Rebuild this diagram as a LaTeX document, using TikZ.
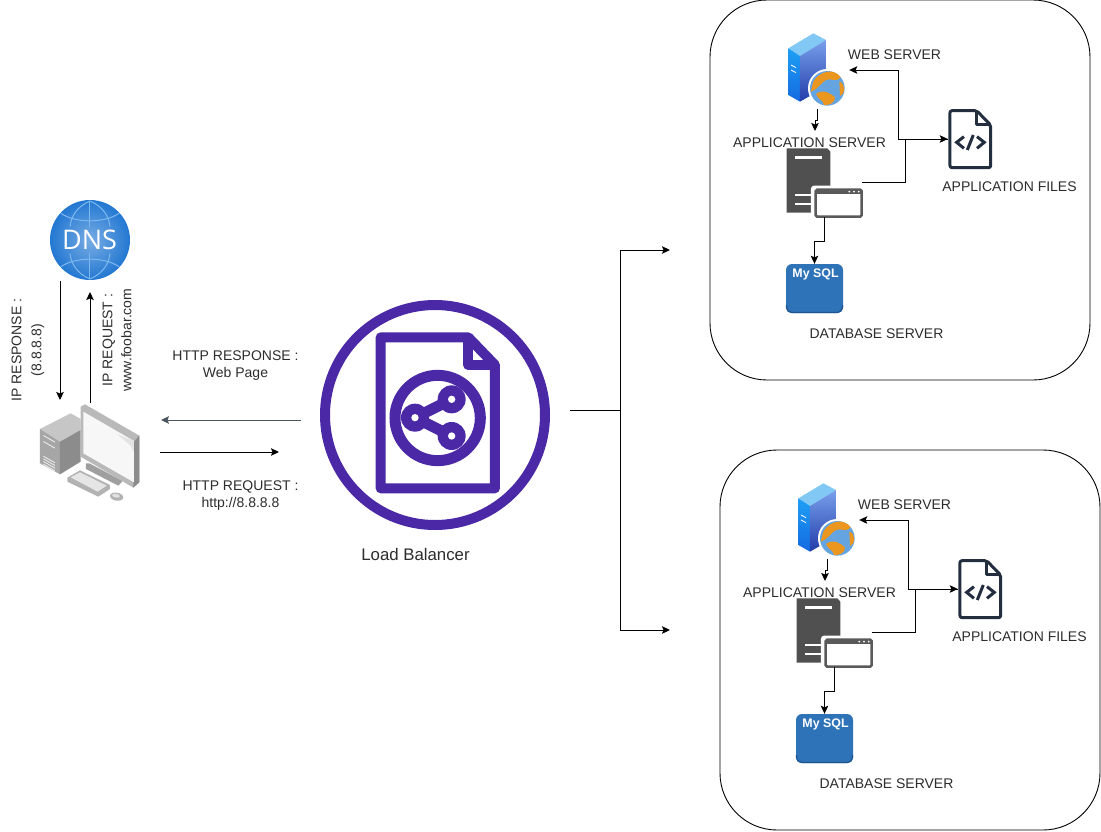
\documentclass[tikz,border=0pt]{standalone}
\usepackage{fontspec}
\setmainfont{Liberation Sans}
\newfontfamily\dnsfont{Open Sans}
\usetikzlibrary{arrows.meta, calc}
\definecolor{LBPurple}{RGB}{75, 40, 165}
\definecolor{LinkGrey}{RGB}{75, 85, 95}
\definecolor{TextDark}{RGB}{45, 45, 45}
\definecolor{FileDark}{RGB}{35, 47, 62}
\definecolor{ServerDark}{RGB}{80, 80, 80}
\definecolor{WinGrey}{RGB}{90, 90, 90}
\definecolor{SqlBlue}{RGB}{46, 115, 184}
\definecolor{SqlEdge}{RGB}{30, 85, 145}
\definecolor{DnsBlue}{RGB}{35, 120, 210}
\definecolor{DnsLine}{RGB}{125, 185, 240}
\definecolor{GlobeOrange}{RGB}{235, 150, 30}
\definecolor{GlobeBlue}{RGB}{100, 165, 225}
\definecolor{TowerTop}{RGB}{130, 200, 245}
\definecolor{TowerLeft}{RGB}{30, 160, 245}
\definecolor{TowerLeftLow}{RGB}{20, 105, 225}
\definecolor{TowerRight}{RGB}{120, 160, 235}
\definecolor{TowerRightLow}{RGB}{35, 60, 170}
\tikzset{
  link/.style={draw=black, line width=0.9pt, -{Stealth[length=8pt,width=7.5pt,inset=1.5pt]}},
  plainlabel/.style={font=\fontsize{14}{17}\selectfont, text=TextDark, align=center, inner sep=0pt},
  iconbox/.style={inner sep=0pt, minimum width=#1},
  panel/.style={draw=black, line width=0.9pt, rounded corners=57pt},
}

\begin{document}
\begin{tikzpicture}[x=1pt,y=-1pt]
  \path[use as bounding box] (0,0) rectangle (1101,831);
  \fill[white] (0,0) rectangle (1101,831);

  % DNS globe
  \node[circle, minimum size=80pt, inner sep=0pt, shading=radial, inner color=DnsBlue!62!white, outer color=DnsBlue] (dns) at (90,240) {};
  \begin{scope}[shift={(45,195)}, x=0.3333pt, y=-0.3333pt]
    \draw[DnsLine, line width=1pt] (135,18) .. controls (95,35) and (78,65) .. (75,95);
    \draw[DnsLine, line width=1pt] (135,18) .. controls (175,35) and (192,65) .. (195,95);
    \draw[DnsLine, line width=1pt] (135,252) .. controls (95,235) and (78,205) .. (75,175);
    \draw[DnsLine, line width=1pt] (135,252) .. controls (175,235) and (192,205) .. (195,175);
    \draw[DnsLine, line width=1pt] (135,18) -- (135,95) (135,175) -- (135,252);
    \draw[DnsLine, line width=1pt] (48,55) .. controls (90,85) and (180,85) .. (222,55);
    \draw[DnsLine, line width=1pt] (48,215) .. controls (90,185) and (180,185) .. (222,215);
  \end{scope}
  \node[font=\dnsfont\fontsize{27}{27}\selectfont, text=white, inner sep=0pt] (dnstext) at (89.5,240) {DNS};

  % Client computer
  \node[iconbox=98pt, minimum height=84pt] (client) at (90,445) {};
  \begin{scope}[shift={(30,395)}, x=0.3333pt, y=-0.3333pt]
    \fill[gray!45] (30,102) -- (122,55) -- (152,72) -- (152,105) -- (90,140) -- cycle;
    \fill[gray!70] (30,102) -- (90,140) -- (90,238) -- (30,205) -- cycle;
    \fill[gray!90] (90,140) -- (152,105) -- (152,200) -- (90,238) -- cycle;
    \foreach \yy in {120,138,182,190,198,206}
      \fill[gray!15] (40,\yy) -- (75,\yy+20) -- (75,\yy+23) -- (40,\yy+3) -- cycle;
    \fill[gray!75] (168,205) -- (178,205) -- (278,258) -- (265,272) -- (168,222) -- cycle;
    \fill[gray!60] (112,248) -- (150,226) -- (240,270) -- (240,282) -- (205,305) -- (112,260) -- cycle;
    \fill[gray!20] (122,247) -- (150,232) -- (230,272) -- (203,290) -- cycle;
    \fill[gray!60] (260,305) ellipse[x radius=20, y radius=12, rotate=-10];
    \fill[gray!25] (258,302) ellipse[x radius=12, y radius=6, rotate=-10];
    \fill[gray!55] (152,35) -- (165,28) -- (328,122) -- (328,262) -- (310,278) -- (152,185) -- cycle;
    \fill[gray!90] (312,140) -- (328,122) -- (328,262) -- (310,278) -- cycle;
    \fill[gray!6] (160,50) -- (312,138) -- (312,262) -- (160,175) -- cycle;
    \fill[gray!22] (262,118) -- (312,138) -- (312,170) -- (300,150) -- cycle;
  \end{scope}

  \node[plainlabel, font=\fontsize{14}{20}\selectfont, rotate=90] (iprespl) at (28,350) {IP RESPONSE :\\(8.8.8.8)};
  \node[plainlabel, font=\fontsize{14}{19}\selectfont, rotate=90] (ipreql) at (117,340) {IP REQUEST :\\www.foobar.com};
  \coordinate (dnsout) at (60,281);
  \coordinate (clientin) at (60,400);
  \coordinate (clientout) at (90,403);
  \coordinate (dnsin) at (90,292);
  \draw[link] (dnsout) -- (clientin);
  \draw[link] (clientout) -- (dnsin);

  % Load balancer
  \node[circle, draw=LBPurple, line width=10pt, minimum size=220pt, inner sep=0pt] (lb) at (435,415) {};
  \begin{scope}[shift={(310,290)}, x=0.3333pt, y=-0.3333pt]
    \draw[LBPurple, line width=10pt, line join=round] (212,142) -- (475,142) -- (555,225) -- (555,595) -- (212,595) -- cycle;
    \draw[LBPurple, line width=10pt, line join=round] (475,142) -- (475,225) -- (555,225);
    \draw[LBPurple, line width=11pt] (383,384) circle (128);
    \draw[LBPurple, line width=11pt] (315,383) -- (425,328);
    \draw[LBPurple, line width=11pt] (315,383) -- (425,438);
    \foreach \nx/\ny in {315/383, 425/328, 425/438} {
      \fill[LBPurple] (\nx,\ny) circle (42);
      \fill[white] (\nx,\ny) circle (11);
    }
  \end{scope}
  \node[plainlabel, font=\fontsize{16.8}{18}\selectfont] (lblabel) at (415.5,554) {Load Balancer};

  \coordinate (respstart) at (301,420);
  \coordinate (respend) at (161,420);
  \coordinate (reqstart) at (160,452);
  \coordinate (reqend) at (279,452);
  \draw[link, draw=LinkGrey, {-Stealth[length=8pt,width=7.5pt,inset=1.5pt,fill=LinkGrey]}] (respstart) -- (respend);
  \draw[link] (reqstart) -- (reqend);
  \node[plainlabel] (resplabel) at (235.5,366) {HTTP RESPONSE :\\Web Page};
  \node[plainlabel] (reqlabel) at (240.5,496) {HTTP REQUEST :\\http://8.8.8.8};

  \coordinate (lbout) at (570,410);
  \coordinate (split) at (620,410);
  \coordinate (uppertip) at (670,250);
  \coordinate (lowertip) at (670,630);
  \draw[link] (lbout) -- (split) |- (uppertip);
  \draw[link] (split) |- (lowertip);

  % Server clusters: the second one sits 10 right and 450 down
  \foreach \cl/\dx/\dy in {a/0/0, b/10/450} {
  \begin{scope}[shift={(\dx,\dy)}]
    \draw[panel] (710,0) rectangle (1090,380);
    \node[iconbox=64pt, minimum height=78pt] (web\cl) at (817,70) {};
    \node[iconbox=75pt, minimum height=69pt] (app\cl) at (824.5,182.5) {};
    \node[iconbox=44pt, minimum height=60pt] (files\cl) at (970,139) {};
    \node[iconbox=57pt, minimum height=49pt, fill=SqlBlue, rounded corners=6pt] (mysql\cl) at (814.5,288.5) {};

    % web server artwork
    \begin{scope}[shift={(720,20)}, x=0.3333pt, y=-0.3333pt]
      \fill[TowerTop] (205,85) -- (280,40) -- (318,60) -- (240,108) -- cycle;
      \shade[top color=TowerLeft, bottom color=TowerLeftLow] (205,85) -- (240,108) -- (240,245) -- (205,225) -- cycle;
      \shade[top color=TowerRight, bottom color=TowerRightLow] (240,108) -- (318,60) -- (318,200) -- (240,245) -- cycle;
      \draw[white, line width=0.8pt] (213,135) -- (228,143) (213,150) -- (228,158);
      \fill[white] (322,205) circle (58);
      \fill[GlobeBlue] (322,205) circle (52);
      \fill[GlobeOrange] (280,185) .. controls (300,150) and (345,145) .. (362,172) .. controls (345,190) and (335,172) .. (318,180) .. controls (300,190) and (298,205) .. (272,215) -- cycle;
      \fill[GlobeOrange] (288,222) .. controls (310,205) and (335,222) .. (345,232) .. controls (348,250) and (320,258) .. (312,255) .. controls (310,240) and (295,240) .. (288,222) -- cycle;
      \fill[GlobeOrange] (358,185) .. controls (378,190) and (376,225) .. (360,228) -- cycle;
    \end{scope}

    % application server artwork
    \begin{scope}[shift={(720,20)}, x=0.3333pt, y=-0.3333pt]
      \fill[ServerDark] (200,385) -- (322,385) -- (331,395) -- (331,578) -- (200,578) -- cycle;
      \fill[white] (225,408) rectangle (306,416);
      \fill[white] (225,521) rectangle (275,529);
      \fill[white] (225,548) rectangle (275,556);
      \fill[white, rounded corners=3pt] (273,497) rectangle (437,600);
      \draw[WinGrey, line width=2.5pt, rounded corners=1.5pt, fill=white] (287,509) rectangle (425,590);
      \fill[WinGrey] (287,509) rectangle (425,522);
      \foreach \wx in {388,402,416}
        \fill[white] (\wx,515) circle (3);
    \end{scope}

    % application files artwork
    \begin{scope}[shift={(720,20)}, x=0.3333pt, y=-0.3333pt]
      \draw[FileDark, line width=3pt, line join=round, rounded corners=2pt] (690,272) -- (770,272) -- (812,315) -- (812,443) -- (690,443) -- cycle;
      \draw[FileDark, line width=3pt, line join=round] (770,272) -- (770,315) -- (812,315);
      \draw[FileDark, line width=3pt] (732,350) -- (710,367) -- (732,385);
      \draw[FileDark, line width=3pt] (760,345) -- (742,390);
      \draw[FileDark, line width=3pt] (771,350) -- (793,367) -- (771,385);
    \end{scope}

    \draw[SqlEdge, line width=1.2pt, rounded corners=5pt] (786.5,305) -- (786.5,312.4) -- (842.5,312.4) -- (842.5,305);
    \node[font=\bfseries\fontsize{12.4}{13}\selectfont, text=white, inner sep=0pt] (sql\cl) at (815.5,274.5) {My SQL};
    \node[plainlabel] (weblabel\cl) at (894.5,54.5) {WEB SERVER};
    \node[plainlabel] (applabel\cl) at (809.5,142.5) {APPLICATION SERVER};
    \node[plainlabel] (fileslabel\cl) at (1009.5,186.5) {APPLICATION FILES};
    \node[plainlabel] (dblabel\cl) at (876.5,333.5) {DATABASE SERVER};

    \coordinate (appin\cl) at (815,131);
    \coordinate (busr\cl) at (905,139);
    \coordinate (busl\cl) at (898,139);
    \draw[link] (web\cl.south) -- ++(0,11) -| (appin\cl);
    \draw[link] (app\cl.east) -| (busr\cl) -- (files\cl.west);
    \draw[link] (files\cl.west) -- (busl\cl) |- (web\cl.east);
    \draw[link] (app\cl.south) -- ++(0,24) -| (mysql\cl.north);
  \end{scope}
  }
\end{tikzpicture}
\end{document}
